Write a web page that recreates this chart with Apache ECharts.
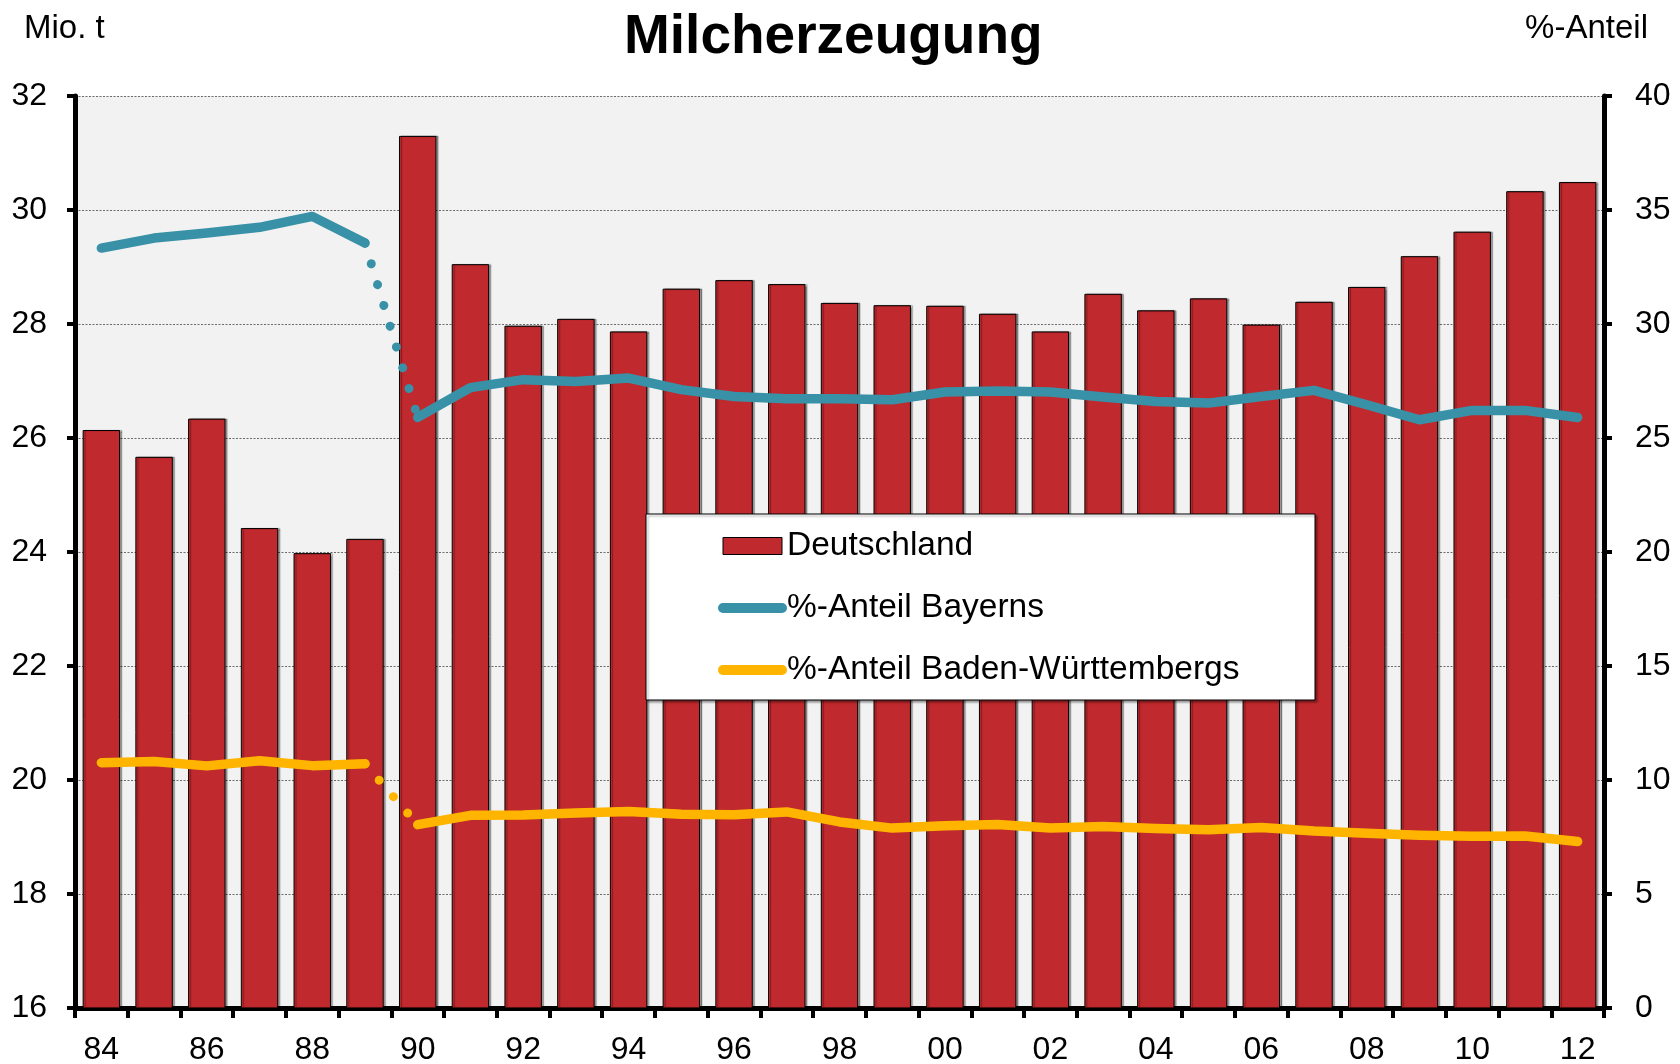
<!DOCTYPE html>
<html>
<head>
<meta charset="utf-8">
<script src="https://cdn.jsdelivr.net/npm/echarts@6/dist/echarts.min.js"></script>
<style>
html,body{margin:0;padding:0;background:#fff;}
#chart{width:1680px;height:1064px;}
</style>
</head>
<body>
<div id="chart"></div>
<script>
const years = ['84','85','86','87','88','89','90','91','92','93','94','95','96','97','98','99','00','01','02','03','04','05','06','07','08','09','10','11','12'];
const deutschland = [26.14,25.67,26.34,24.42,23.98,24.23,31.30,29.05,27.97,28.09,27.87,28.62,28.77,28.70,28.37,28.33,28.32,28.18,27.87,28.53,28.24,28.45,27.99,28.39,28.65,29.19,29.62,30.33,30.49];
const bayern = [33.33,33.77,33.99,34.24,34.72,33.55,25.90,27.21,27.56,27.48,27.63,27.12,26.82,26.72,26.72,26.68,27.02,27.06,27.02,26.80,26.60,26.53,26.82,27.09,26.46,25.80,26.21,26.21,25.90];
const badenWue = [10.76,10.81,10.62,10.84,10.63,10.71,8.04,8.45,8.47,8.55,8.62,8.50,8.48,8.60,8.16,7.89,7.99,8.05,7.89,7.96,7.87,7.82,7.92,7.76,7.66,7.58,7.53,7.54,7.30];
const leftTicks = {min:16, max:32, interval:2};
const rightTicks = {min:0, max:40, interval:5};
const breakIndex = 6; // Gebietsstand ab 1990

const FONT = '"Liberation Sans", Arial, Helvetica, sans-serif';
const C_BAR = '#C0292D', C_BY = '#3891A7', C_BW = '#FFB400';

function part(arr, from, to){ return arr.map((v,i)=> (i>=from && i<=to) ? v : '-'); }
const last = years.length-1;

const lineBase = {type:'line', yAxisIndex:1, symbol:'none', showSymbol:false, connectNulls:false, silent:true, z:3};
function solid(name, color, data){ return Object.assign({}, lineBase, {name, data, lineStyle:{color, width:9.5, cap:'round', join:'round'}, itemStyle:{color}}); }
function dotted(name, color, data){ return Object.assign({}, lineBase, {name, data, lineStyle:{color, width:9, cap:'round', type:[0.01,21.7]}, itemStyle:{color}}); }

const chart = echarts.init(document.getElementById('chart'), null, {renderer:'canvas'});
chart.setOption({
  animation:false,
  backgroundColor:'#ffffff',
  textStyle:{fontFamily:FONT},
  title:[
    {text:'Milcherzeugung', left:619, top:5, textStyle:{fontFamily:FONT, fontSize:55, fontWeight:'bold', color:'#000'}},
    {text:'Mio. t', left:19, top:7, textStyle:{fontFamily:FONT, fontSize:33, fontWeight:'normal', color:'#000'}},
    {text:'%-Anteil', right:27, top:7, textStyle:{fontFamily:FONT, fontSize:33, fontWeight:'normal', color:'#000'}}
  ],
  grid:{left:75, right:76, top:96, bottom:56, show:true, backgroundColor:'#F2F2F2', borderWidth:0, containLabel:false, outerBoundsMode:'none'},
  graphic:[{type:'rect', shape:{x:646, y:514, width:669, height:186}, style:{fill:'#fff', stroke:'#000', lineWidth:1, shadowColor:'rgba(0,0,0,0.35)', shadowOffsetX:2, shadowOffsetY:2, shadowBlur:2}, z:5, silent:true}],
  legend:{
    left:718, top:526, orient:'vertical', padding:0, itemGap:22, itemWidth:59, itemHeight:17, z:6,
    selectedMode:false,
    textStyle:{fontFamily:FONT, fontSize:33.5, color:'#000', lineHeight:40, padding:[0,0,0,0]},
    data:[
      {name:'Deutschland', icon:'rect', itemStyle:{color:C_BAR, borderColor:'#000', borderWidth:1}},
      {name:'%-Anteil Bayerns', lineStyle:{color:C_BY, width:10, cap:'round'}, itemStyle:{opacity:0}},
      {name:'%-Anteil Baden-Württembergs', lineStyle:{color:C_BW, width:10, cap:'round'}, itemStyle:{opacity:0}}
    ]
  },
  xAxis:{
    type:'category', data:years, boundaryGap:true,
    axisLine:{lineStyle:{color:'#000', width:5}},
    axisTick:{show:true, interval:0, length:10, lineStyle:{color:'#000', width:4}},
    axisLabel:{interval:1, fontFamily:FONT, fontSize:32, color:'#000', margin:26},
    splitLine:{show:false}
  },
  yAxis:[
    {type:'value', position:'left', min:leftTicks.min, max:leftTicks.max, interval:leftTicks.interval,
     axisLine:{show:true, lineStyle:{color:'#000', width:5}},
     axisTick:{show:true, length:8, lineStyle:{color:'#000', width:4}},
     axisLabel:{fontFamily:FONT, fontSize:32, color:'#000', margin:28},
     splitLine:{show:true, lineStyle:{color:'#6b6b6b', width:1.2, type:[2,1.5]}}},
    {type:'value', position:'right', min:rightTicks.min, max:rightTicks.max, interval:rightTicks.interval,
     axisLine:{show:true, lineStyle:{color:'#000', width:5}},
     axisTick:{show:true, length:8, lineStyle:{color:'#000', width:4}},
     axisLabel:{fontFamily:FONT, fontSize:32, color:'#000', margin:31},
     splitLine:{show:false}}
  ],
  series:[
    {name:'Deutschland', type:'bar', data:deutschland, barWidth:'71%', silent:true, z:2,
     itemStyle:{color:C_BAR, borderColor:'#000', borderWidth:1, shadowColor:'rgba(0,0,0,0.35)', shadowOffsetX:2, shadowOffsetY:0, shadowBlur:1}},
    solid('%-Anteil Bayerns', C_BY, part(bayern, 0, breakIndex-1)),
    dotted('by-dot', C_BY, part(bayern, breakIndex-1, breakIndex)),
    solid('%-Anteil Bayerns', C_BY, part(bayern, breakIndex, last)),
    solid('%-Anteil Baden-Württembergs', C_BW, part(badenWue, 0, breakIndex-1)),
    dotted('bw-dot', C_BW, part(badenWue, breakIndex-1, breakIndex)),
    solid('%-Anteil Baden-Württembergs', C_BW, part(badenWue, breakIndex, last))
  ]
});
</script>
</body>
</html>
